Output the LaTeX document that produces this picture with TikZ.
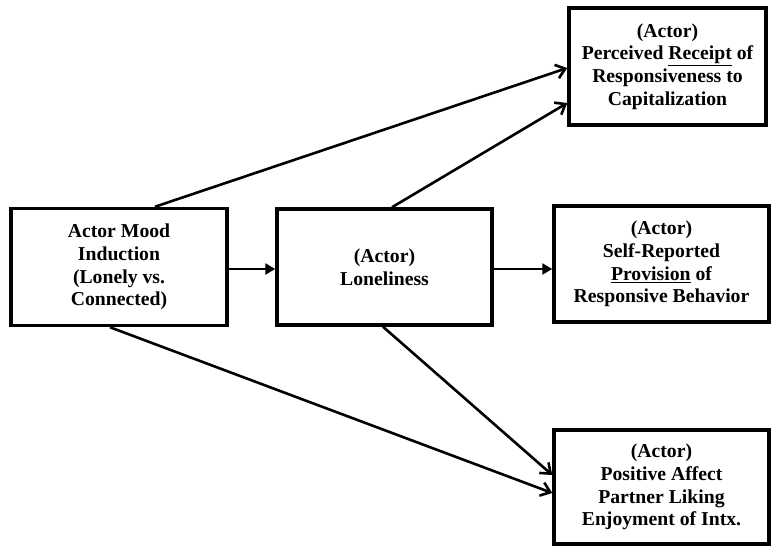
\documentclass[tikz,border=0pt]{standalone}
\usepackage{fontspec}
\setmainfont{Liberation Serif}
\usepackage{tikz}
\usetikzlibrary{arrows.meta, positioning}

\begin{document}
\begin{tikzpicture}[
  x=1pt, y=-1pt,
  box/.style={rectangle, draw, line width=3.5pt, align=center, inner sep=0pt,
    font=\bfseries\fontsize{19.7}{22.8}\selectfont},
  arrow/.style={-{Triangle[length=10pt, width=11pt]}, line width=2.8pt},
  barb/.style={-{Straight Barb[length=9pt, width=14pt, line width=2.6pt]}, line width=2.6pt}
]
  \useasboundingbox (0,0) rectangle (774,548);

  \node[box, minimum width=216pt, minimum height=117pt] (mood) at (119,267) {Actor Mood\\Induction\\(Lonely vs.\\Connected)};
  \node[box, minimum width=215pt, minimum height=116pt] (lonely) at (384.5,267) {(Actor)\\Loneliness};
  \node[box, minimum width=197pt, minimum height=117pt] (receipt) at (667.5,66.5) {(Actor)\\Perceived \underline{Receipt} of\\Responsiveness to\\Capitalization};
  \node[box, minimum width=215pt, minimum height=116pt] (provision) at (661.5,264) {(Actor)\\Self-Reported\\\underline{Provision} of\\Responsive Behavior};
  \node[box, minimum width=215pt, minimum height=114pt] (affect) at (661.5,487) {(Actor)\\Positive Affect\\Partner Liking\\Enjoyment of Intx.};

  % horizontal paths
  \draw[arrow] ([yshift=-2pt]mood.east) -- ([yshift=-2pt]lonely.west);
  \draw[arrow] ([yshift=-2pt]lonely.east) -- ([yshift=-2pt]lonely.east -| provision.west);

  % diagonal paths
  \draw[barb] ([xshift=36pt]mood.north) -- ([yshift=-1.5pt]receipt.west);
  \draw[barb] ([xshift=7.5pt]lonely.north) -- ([yshift=-36.5pt]receipt.west);
  \draw[barb] ([xshift=-9pt]mood.south) -- ([yshift=-6pt]affect.west);
  \draw[barb] ([xshift=-1.5pt]lonely.south) -- ([yshift=12pt]affect.west);
\end{tikzpicture}
\end{document}
